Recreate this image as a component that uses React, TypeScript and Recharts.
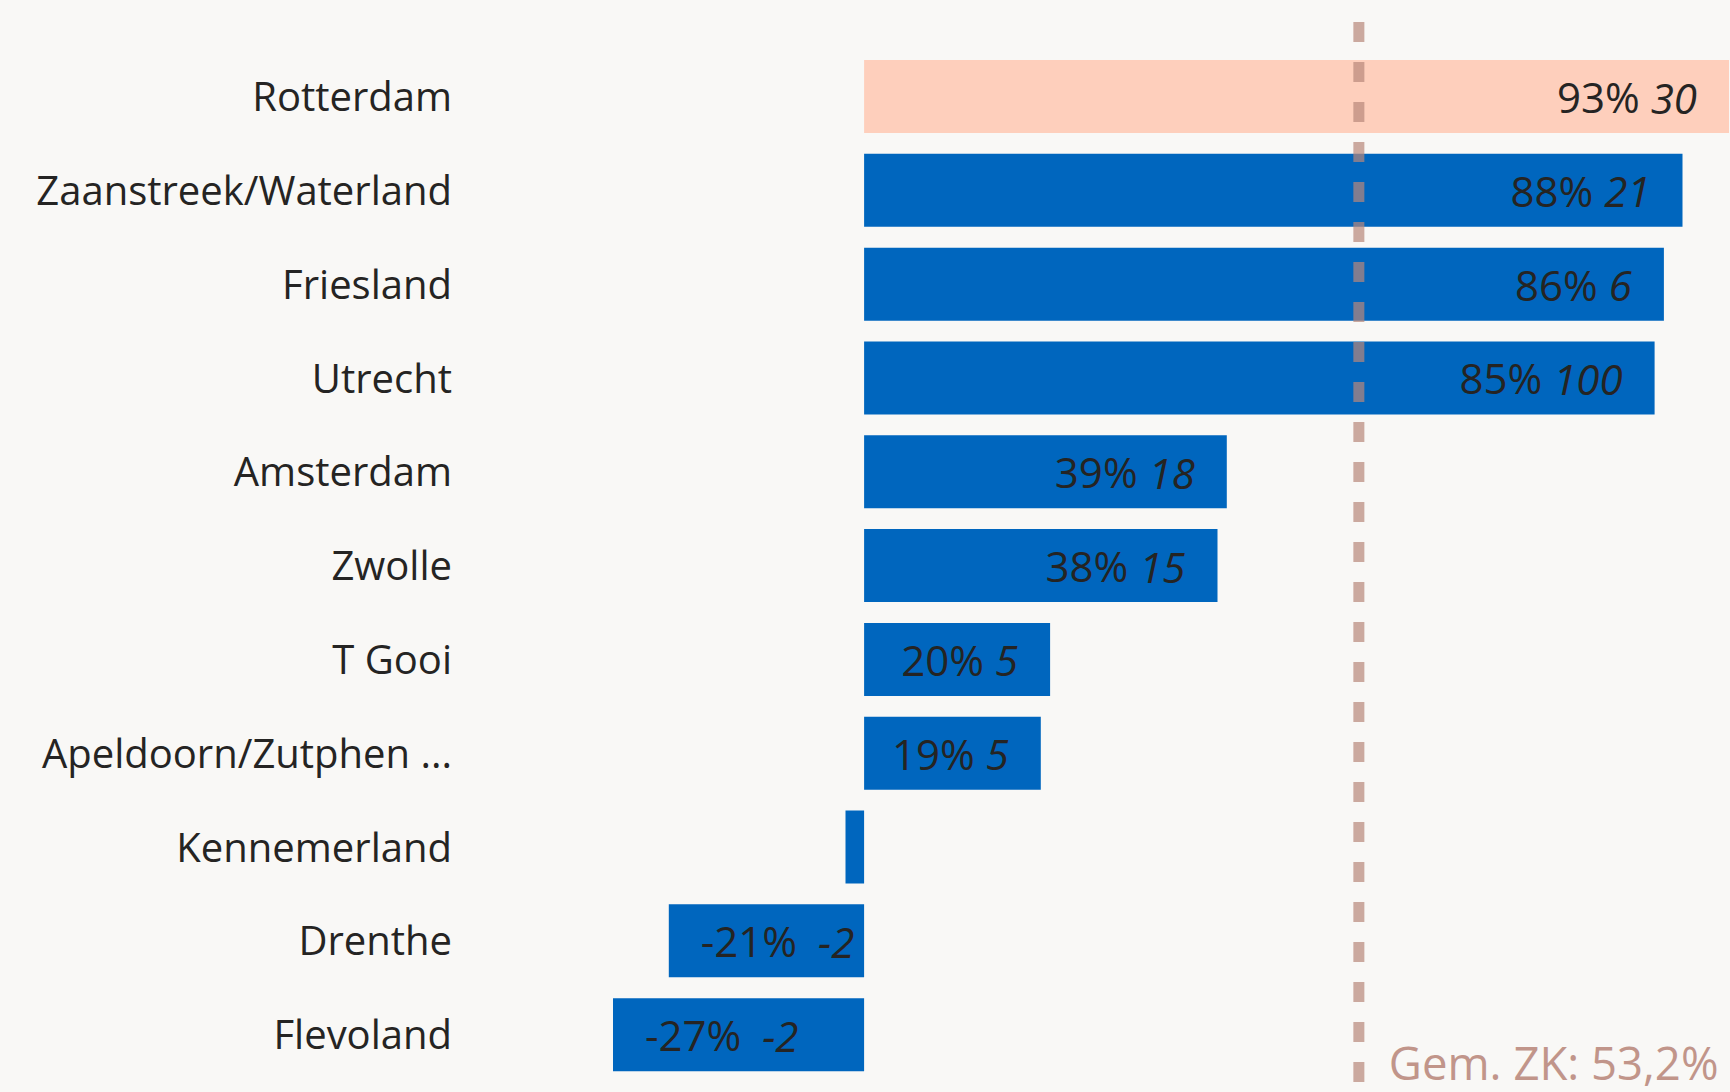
import { BarChart, Bar, XAxis, YAxis, Cell, LabelList, ReferenceLine } from 'recharts';

const regions = [
  'Rotterdam',
  'Zaanstreek/Waterland',
  'Friesland',
  'Utrecht',
  'Amsterdam',
  'Zwolle',
  'T Gooi',
  'Apeldoorn/Zutphen ...',
  'Kennemerland',
  'Drenthe',
  'Flevoland',
];
const growthPct = [93, 88, 86, 85, 39, 38, 20, 19, -2, -21, -27];
const counts = [30, 21, 6, 100, 18, 15, 5, 5, -1, -2, -2];
const highlight = 'Rotterdam';
const average = 53.2;
const averageLabel = 'Gem. ZK: 53,2%';

const data = regions.map((name, i) => ({ name, pct: growthPct[i], count: counts[i] }));

const FONT = '"Open Sans", "Segoe UI", sans-serif';

function BarLabel(props: any) {
  const { x, y, width, height, index } = props;
  const left = Math.min(x, x + width);
  const right = Math.max(x, x + width);
  if (right - left < 60) return null;
  const d = data[index];
  const neg = d.pct < 0;
  return (
    <text
      x={neg ? left + 32 : right - 32}
      y={y + height / 2}
      textAnchor={neg ? 'start' : 'end'}
      dominantBaseline="central"
      fontFamily={FONT}
      fontSize={42}
      fill="#252423"
      style={{ whiteSpace: 'pre' }}
    >
      {`${d.pct}% `}
      <tspan fontStyle="italic" dx={d.count < 0 ? 10 : 0}>{d.count}</tspan>
    </text>
  );
}

function AvgLabel(props: any) {
  const { viewBox } = props;
  return (
    <text
      x={viewBox.x + 30}
      y={viewBox.y + viewBox.height - 2}
      fontFamily={FONT}
      fontSize={45.5}
      fill="#c1958a"
    >
      {averageLabel}
    </text>
  );
}

export default function App() {
  return (
    <div style={{ position: 'absolute', left: 0, top: 0, width: 1730, height: 1092, background: '#f9f8f6' }}>
      <BarChart
        width={1730}
        height={1092}
        data={data}
        layout="vertical"
        margin={{ top: 22, right: 1, bottom: 10, left: 0 }}
      >
        <XAxis type="number" domain={[-27, 93]} hide allowDataOverflow />
        <YAxis
          type="category"
          dataKey="name"
          width={613}
          axisLine={false}
          tickLine={false}
          tickSize={0}
          tickMargin={161}
          padding={{ top: 28, bottom: 0 }}
          interval={0}
          tick={{ fontSize: 40, fill: '#252423', fontFamily: FONT }}
        />
        <Bar dataKey="pct" barSize={73} isAnimationActive={false}>
          {data.map((d) => (
            <Cell key={d.name} fill={d.name === highlight ? '#fecfbc' : '#0066be'} />
          ))}
          <LabelList dataKey="pct" content={BarLabel} />
        </Bar>
        <ReferenceLine
          x={average}
          stroke="#b8887a"
          strokeOpacity={0.7}
          strokeWidth={11}
          strokeDasharray="20 20"
          label={AvgLabel}
        />
      </BarChart>
    </div>
  );
}
